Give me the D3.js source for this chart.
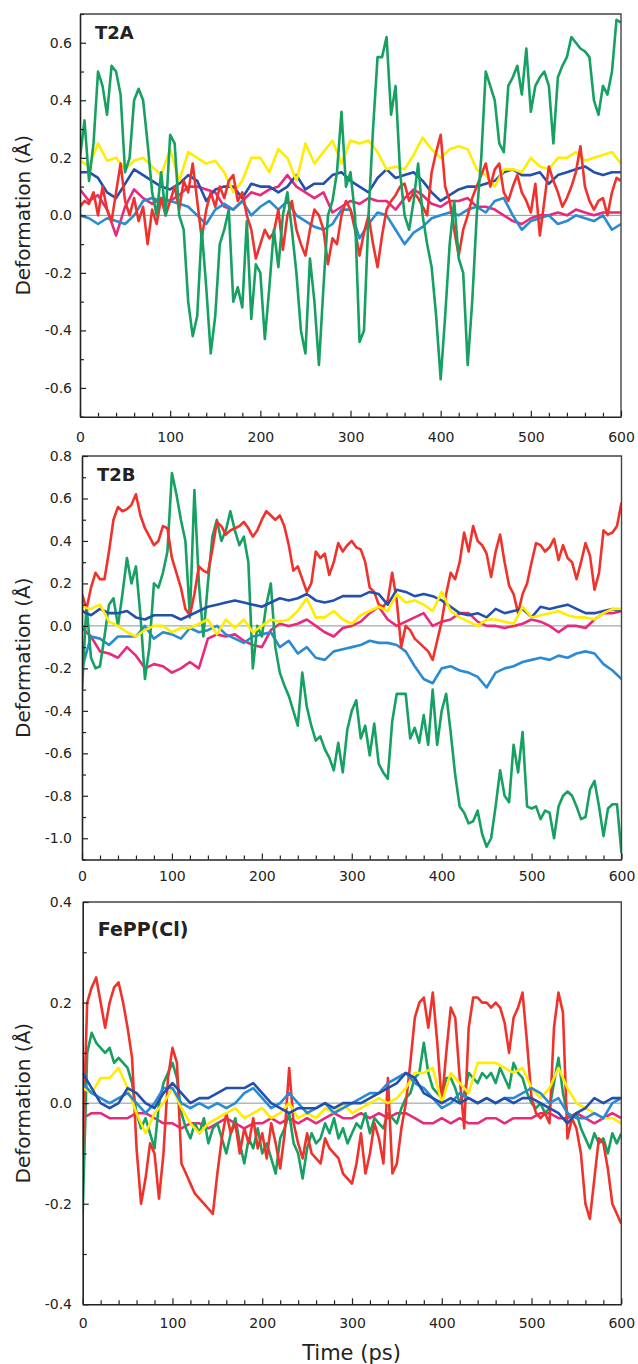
<!DOCTYPE html>
<html>
<head>
<meta charset="utf-8">
<script src="https://cdn.jsdelivr.net/npm/d3@7"></script>
<style>
    body { margin: 0; background: #fff; }
    text { font-family: "DejaVu Sans", "Liberation Sans", sans-serif; fill: #222; }
</style>
</head>
<body>
<svg id="figure" width="638" height="1364"></svg>
<script>
// time grids (ps): the noisy traces are read every 5 ps, the smoother ones every 10 ps
const t5 = d3.range(0, 601, 5);
const t10 = d3.range(0, 601, 10);
const timeTicks = [0, 100, 200, 300, 400, 500, 600];

// ---- T2A ----
const t2aGreen = [
    0.20,0.33,0.12,0.25,0.50,0.45,0.35,0.52,0.50,0.42,
    0.15,0.20,0.40,0.44,0.40,0.25,0.08,0.00,0.15,0.00,
    0.28,0.25,0.00,-0.05,-0.30,-0.42,-0.35,-0.05,-0.25,-0.48,
    -0.35,-0.10,-0.05,0.02,-0.30,-0.25,-0.32,-0.02,-0.36,-0.17,
    -0.20,-0.43,-0.25,-0.05,-0.18,0.00,0.08,-0.05,-0.20,-0.40,
    -0.48,-0.15,-0.30,-0.52,-0.25,0.00,0.05,0.15,0.36,0.10,
    0.15,0.00,-0.44,-0.40,0.00,0.30,0.55,0.55,0.62,0.35,
    0.45,0.15,0.00,-0.05,0.05,0.18,0.00,-0.10,-0.18,-0.35,
    -0.57,-0.35,-0.10,0.05,-0.15,-0.20,-0.52,-0.30,0.00,0.20,
    0.50,0.45,0.40,0.25,0.22,0.45,0.48,0.52,0.42,0.58,
    0.36,0.45,0.48,0.50,0.45,0.25,0.48,0.52,0.55,0.62,
    0.60,0.58,0.57,0.55,0.40,0.35,0.45,0.42,0.50,0.68,
    0.67];
const t2aRed = [
    0.03,0.05,0.04,0.08,0.00,0.10,0.02,-0.02,0.08,0.18,
    0.05,0.00,0.06,-0.02,0.03,-0.10,0.02,-0.03,0.06,0.00,
    0.05,0.10,0.02,0.12,0.08,0.18,0.05,-0.08,0.02,0.08,
    0.03,0.10,0.06,0.12,0.14,0.05,0.08,0.00,-0.05,-0.15,
    -0.10,-0.05,-0.08,-0.06,0.02,-0.12,0.00,0.05,-0.05,-0.10,
    -0.14,-0.05,0.02,0.00,-0.05,-0.17,-0.08,-0.10,0.00,0.05,
    0.02,-0.05,-0.14,-0.06,0.00,-0.10,-0.18,-0.07,0.02,0.05,
    0.07,0.10,0.11,0.05,0.08,0.06,0.03,0.00,0.15,0.22,
    0.28,0.10,0.05,-0.05,-0.14,-0.05,0.00,0.06,0.10,0.14,
    0.18,0.10,0.16,0.18,0.08,0.05,0.10,0.14,0.08,0.05,
    0.01,0.11,-0.07,0.05,0.17,0.12,0.08,0.03,0.06,0.10,
    0.15,0.24,0.10,0.05,0.02,0.05,0.06,0.00,0.08,0.13,
    0.12];
const t2aYellow = [
    0.19,0.17,0.25,0.19,0.20,0.16,0.19,0.20,0.17,0.14,
    0.23,0.12,0.22,0.20,0.18,0.19,0.15,0.08,0.12,0.20,
    0.20,0.15,0.23,0.20,0.12,0.25,0.18,0.22,0.26,0.18,
    0.26,0.25,0.26,0.22,0.16,0.17,0.16,0.21,0.27,0.23,
    0.20,0.23,0.24,0.23,0.16,0.14,0.10,0.16,0.16,0.15,
    0.20,0.17,0.16,0.20,0.20,0.22,0.19,0.20,0.21,0.22,
    0.18];
const t2aNavy = [
    0.15,0.15,0.13,0.08,0.06,0.11,0.16,0.14,0.12,0.10,
    0.09,0.11,0.14,0.12,0.05,0.09,0.10,0.10,0.06,0.11,
    0.10,0.10,0.08,0.10,0.14,0.09,0.11,0.11,0.14,0.15,
    0.12,0.10,0.08,0.13,0.16,0.13,0.14,0.15,0.12,0.08,
    0.05,0.07,0.09,0.10,0.10,0.11,0.12,0.15,0.16,0.14,
    0.14,0.15,0.11,0.14,0.15,0.16,0.17,0.15,0.14,0.15,
    0.15];
const t2aSky = [
    0.00,-0.01,-0.03,-0.01,-0.02,-0.03,0.00,0.05,0.06,0.05,
    0.05,0.04,0.03,0.00,-0.03,0.02,0.04,0.02,0.05,0.00,
    0.03,0.05,0.02,0.05,0.00,-0.02,-0.04,-0.05,-0.03,0.02,
    0.02,-0.08,-0.03,0.01,0.00,-0.05,-0.10,-0.06,-0.04,-0.01,
    0.00,0.01,0.00,0.02,0.03,0.01,0.05,0.06,0.00,-0.05,
    -0.02,-0.01,0.00,-0.03,-0.02,0.00,-0.01,-0.02,0.00,-0.05,
    -0.03];
const t2aMagenta = [
    0.09,0.05,0.07,0.02,-0.07,0.03,0.09,0.06,0.04,0.06,
    0.05,0.07,0.10,0.10,0.09,0.08,0.03,0.02,0.05,0.08,
    0.07,0.09,0.10,0.14,0.10,0.08,0.06,0.08,0.01,0.03,
    0.05,0.04,0.06,0.05,0.05,0.02,0.06,0.09,0.07,0.04,
    0.03,0.05,0.05,0.06,0.03,0.03,0.02,0.00,-0.02,-0.03,
    -0.01,0.00,0.00,0.01,0.00,0.02,0.01,0.00,0.01,0.01,
    0.01];

// ---- T2B ----
const t2bRed = [
    0.15,0.08,0.18,0.25,0.22,0.22,0.35,0.50,0.56,0.54,
    0.55,0.57,0.62,0.52,0.46,0.42,0.38,0.40,0.47,0.46,
    0.32,0.25,0.18,0.08,0.05,0.15,0.28,0.26,0.25,0.36,
    0.49,0.47,0.43,0.45,0.46,0.47,0.49,0.46,0.42,0.45,
    0.50,0.54,0.52,0.50,0.52,0.47,0.38,0.26,0.28,0.22,
    0.16,0.20,0.35,0.32,0.34,0.24,0.30,0.39,0.35,0.38,
    0.40,0.37,0.36,0.30,0.18,0.16,0.10,0.09,0.12,0.25,
    0.12,-0.10,0.00,-0.02,-0.06,-0.08,-0.10,-0.12,-0.16,-0.07,
    0.02,0.15,0.25,0.22,0.30,0.44,0.35,0.47,0.40,0.38,
    0.34,0.23,0.35,0.43,0.30,0.19,0.15,0.06,0.15,0.20,
    0.30,0.39,0.38,0.35,0.37,0.41,0.31,0.38,0.32,0.30,
    0.22,0.30,0.39,0.33,0.17,0.25,0.45,0.43,0.44,0.47,
    0.58];
const t2bGreen = [
    -0.30,0.10,-0.15,-0.20,-0.19,-0.05,0.10,0.13,0.00,0.15,
    0.32,0.20,0.28,0.05,-0.25,-0.10,0.20,0.18,0.25,0.35,
    0.72,0.62,0.50,0.40,0.04,0.64,0.20,-0.05,0.20,0.42,
    0.50,0.40,0.45,0.54,0.45,0.38,0.42,0.30,-0.20,0.00,
    -0.05,0.10,0.20,-0.10,-0.22,-0.28,-0.33,-0.40,-0.47,-0.22,
    -0.38,-0.47,-0.54,-0.52,-0.58,-0.62,-0.68,-0.55,-0.69,-0.49,
    -0.40,-0.35,-0.53,-0.47,-0.61,-0.46,-0.65,-0.69,-0.72,-0.45,
    -0.32,-0.32,-0.32,-0.53,-0.48,-0.55,-0.42,-0.56,-0.30,-0.56,
    -0.40,-0.32,-0.50,-0.70,-0.85,-0.88,-0.93,-0.92,-0.87,-0.98,
    -1.04,-1.00,-0.85,-0.68,-0.80,-0.83,-0.56,-0.69,-0.50,-0.85,
    -0.86,-0.85,-0.91,-0.87,-0.88,-1.00,-0.85,-0.80,-0.78,-0.80,
    -0.85,-0.91,-0.90,-0.77,-0.73,-0.85,-0.99,-0.86,-0.84,-0.84,
    -1.07];
const t2bNavy = [
    0.07,0.05,0.08,0.06,0.06,0.07,0.04,0.03,0.05,0.05,
    0.05,0.03,0.05,0.07,0.09,0.10,0.11,0.12,0.11,0.10,
    0.09,0.11,0.13,0.12,0.13,0.15,0.12,0.11,0.12,0.14,
    0.14,0.14,0.16,0.15,0.10,0.17,0.16,0.14,0.15,0.14,
    0.12,0.09,0.06,0.05,0.06,0.04,0.08,0.06,0.07,0.08,
    0.04,0.09,0.08,0.09,0.10,0.08,0.06,0.06,0.07,0.08,
    0.07];
const t2bYellow = [
    0.09,0.08,0.10,0.02,0.00,-0.03,-0.05,-0.02,0.00,0.00,
    -0.03,-0.01,-0.01,0.01,0.03,-0.04,0.03,-0.01,0.03,-0.03,
    0.00,0.03,0.02,0.03,0.07,0.13,0.04,0.04,0.07,0.03,
    0.01,0.05,0.07,0.09,0.07,0.15,0.11,0.12,0.10,0.07,
    0.16,0.07,0.04,0.02,0.00,0.03,0.03,0.02,0.01,0.09,
    0.04,0.05,0.06,0.07,0.05,0.04,0.04,0.03,0.06,0.08,
    0.08];
const t2bMagenta = [
    -0.01,-0.05,-0.12,-0.13,-0.15,-0.10,-0.14,-0.20,-0.18,-0.19,
    -0.22,-0.20,-0.17,-0.20,-0.06,-0.04,-0.05,-0.04,-0.07,-0.09,
    -0.10,-0.02,0.01,0.00,0.01,0.03,0.00,-0.03,-0.05,-0.01,
    0.00,0.02,0.06,0.09,0.03,0.00,0.02,0.04,0.06,0.00,
    0.02,0.03,0.06,0.06,0.02,0.00,0.00,-0.01,0.00,0.01,
    0.03,0.02,0.00,-0.03,0.00,0.00,-0.01,0.03,0.06,0.06,
    0.07];
const t2bSky = [
    -0.20,-0.05,-0.06,-0.09,-0.05,-0.05,-0.05,0.00,-0.06,-0.03,
    -0.04,-0.06,-0.01,-0.03,-0.02,0.00,-0.04,-0.06,-0.08,-0.05,
    -0.04,-0.03,-0.10,-0.07,-0.13,-0.10,-0.15,-0.16,-0.12,-0.11,
    -0.10,-0.09,-0.07,-0.08,-0.08,-0.09,-0.12,-0.19,-0.25,-0.27,
    -0.20,-0.19,-0.21,-0.22,-0.24,-0.29,-0.22,-0.20,-0.19,-0.17,
    -0.16,-0.15,-0.16,-0.14,-0.15,-0.13,-0.12,-0.13,-0.18,-0.21,
    -0.25];

// ---- FePP(Cl) ----
const feRed = [
    -0.10,0.20,0.23,0.25,0.20,0.15,0.20,0.23,0.24,0.20,
    0.15,0.09,-0.09,-0.20,-0.15,-0.08,-0.10,-0.19,-0.10,0.05,
    0.11,0.08,-0.12,-0.14,-0.16,-0.18,-0.19,-0.20,-0.21,-0.22,
    -0.14,-0.07,-0.02,-0.06,-0.04,-0.10,-0.05,-0.08,-0.03,-0.09,
    -0.06,-0.11,-0.04,-0.08,-0.13,-0.06,0.07,-0.04,-0.08,-0.11,
    -0.06,-0.10,-0.11,-0.12,-0.07,-0.09,-0.10,-0.11,-0.14,-0.15,
    -0.16,-0.12,-0.06,-0.14,-0.10,-0.04,-0.07,-0.12,0.05,-0.14,
    -0.12,-0.05,0.00,0.08,0.17,0.20,0.21,0.15,0.22,0.12,
    0.00,0.10,0.19,0.17,0.05,-0.05,0.15,0.21,0.21,0.20,
    0.20,0.19,0.20,0.19,0.16,0.10,0.17,0.19,0.22,0.12,
    0.01,-0.02,-0.03,-0.02,-0.04,0.15,0.22,0.18,-0.07,-0.03,
    -0.05,-0.10,-0.20,-0.23,-0.15,-0.07,-0.08,-0.13,-0.20,-0.22,
    -0.24];
const feGreen = [
    -0.22,0.10,0.14,0.12,0.11,0.10,0.11,0.08,0.09,0.08,
    0.07,0.04,-0.02,-0.05,-0.03,-0.06,-0.09,0.00,0.04,0.06,
    0.08,0.05,-0.02,-0.05,-0.07,-0.04,-0.06,-0.03,-0.08,-0.05,
    -0.04,-0.07,-0.10,-0.06,-0.03,-0.08,-0.12,-0.07,-0.09,-0.05,
    -0.10,-0.08,-0.11,-0.14,-0.07,-0.05,-0.02,-0.08,-0.10,-0.15,
    -0.09,-0.06,-0.08,-0.07,-0.04,-0.06,-0.03,-0.07,-0.05,-0.08,
    -0.06,-0.04,-0.05,-0.02,-0.06,-0.03,-0.04,-0.05,-0.02,-0.03,
    -0.04,-0.01,0.01,0.02,0.05,0.06,0.12,0.06,0.03,0.02,
    0.01,0.05,0.05,0.03,0.00,0.02,0.06,0.05,0.04,0.06,
    0.05,0.06,0.04,0.07,0.05,0.03,0.08,0.06,0.05,0.02,
    0.00,-0.01,0.00,-0.02,-0.01,0.04,0.09,0.02,-0.02,-0.03,
    -0.02,-0.05,-0.07,-0.09,-0.06,-0.08,-0.07,-0.10,-0.06,-0.08,
    -0.06];
const feYellow = [
    0.03,0.02,0.05,0.05,0.07,0.03,-0.02,-0.06,-0.02,0.00,
    0.03,-0.01,-0.04,-0.06,-0.04,-0.03,-0.02,-0.01,-0.03,-0.02,
    -0.01,-0.03,-0.02,0.00,-0.03,-0.02,-0.03,-0.01,-0.02,0.00,
    -0.02,-0.01,0.00,0.01,0.00,0.01,0.03,0.06,0.06,0.07,
    0.00,0.06,0.04,0.02,0.08,0.08,0.08,0.07,0.06,0.07,
    0.03,0.01,0.03,0.07,0.03,0.00,-0.01,-0.02,-0.03,-0.03,
    -0.04];
const feNavy = [
    0.06,0.03,0.00,-0.01,0.00,0.03,0.02,0.00,-0.01,0.02,
    0.04,0.02,0.00,0.01,0.01,0.02,0.03,0.03,0.03,0.04,
    0.02,0.00,-0.01,-0.02,-0.01,-0.01,-0.01,0.00,-0.01,0.00,
    0.00,0.00,0.01,0.02,0.03,0.04,0.06,0.05,0.02,0.01,
    0.00,0.01,0.00,0.01,0.00,0.01,0.00,0.01,0.00,0.01,
    0.01,0.00,-0.01,-0.02,-0.04,-0.02,-0.01,0.01,0.00,0.01,
    0.01];
const feSky = [
    0.04,0.02,0.01,0.00,0.01,0.02,0.00,-0.02,0.00,0.03,
    0.03,0.00,-0.01,0.00,-0.01,0.00,-0.01,0.00,0.02,0.03,
    0.01,-0.01,0.00,0.02,0.00,-0.02,-0.01,0.00,-0.02,-0.01,
    0.00,0.01,0.02,0.02,0.04,0.05,0.06,0.04,0.03,0.01,
    -0.01,0.00,0.02,0.01,0.00,0.01,0.00,0.01,0.01,0.02,
    0.03,0.02,0.00,0.01,-0.02,-0.03,-0.03,-0.02,-0.03,0.00,
    0.01];
const feMagenta = [
    -0.03,-0.02,-0.02,-0.03,-0.03,-0.03,-0.02,-0.02,-0.03,-0.04,
    -0.04,-0.05,-0.04,-0.04,-0.05,-0.04,-0.03,-0.04,-0.05,-0.04,
    -0.04,-0.03,-0.04,-0.03,-0.04,-0.03,-0.04,-0.03,-0.02,-0.03,
    -0.03,-0.02,-0.03,-0.02,-0.03,-0.02,-0.02,-0.03,-0.04,-0.04,
    -0.03,-0.04,-0.03,-0.04,-0.04,-0.03,-0.03,-0.04,-0.03,-0.03,
    -0.03,-0.02,-0.02,-0.03,-0.03,-0.02,-0.03,-0.04,-0.03,-0.02,
    -0.03];

const colors = {
    green: "#16a062",
    red: "#f0322c",
    yellow: "#ffec00",
    navy: "#2450ad",
    sky: "#2a8bd4",
    magenta: "#e8297c"
};

const panels = [
    {
        label: "T2A", left: 80, right: 621, top: 14, bottom: 416.7,
        domain: [-0.7, 0.7], yTicks: [-0.6, -0.4, -0.2, 0, 0.2, 0.4, 0.6],
        labelPad: 15,
        series: [
            {c: "magenta", v: t2aMagenta}, {c: "sky", v: t2aSky}, {c: "navy", v: t2aNavy},
            {c: "yellow", v: t2aYellow}, {c: "red", v: t2aRed}, {c: "green", v: t2aGreen}
        ]
    },
    {
        label: "T2B", left: 82, right: 621.5, top: 456, bottom: 859.5,
        domain: [-1.1, 0.8], yTicks: [-1.0, -0.8, -0.6, -0.4, -0.2, 0, 0.2, 0.4, 0.6, 0.8],
        labelPad: 12,
        series: [
            {c: "magenta", v: t2bMagenta}, {c: "sky", v: t2bSky}, {c: "green", v: t2bGreen},
            {c: "red", v: t2bRed}, {c: "navy", v: t2bNavy}, {c: "yellow", v: t2bYellow}
        ]
    },
    {
        label: "FePP(Cl)", left: 82.7, right: 621.3, top: 902, bottom: 1304.3,
        domain: [-0.4, 0.4], yTicks: [-0.4, -0.2, 0, 0.2, 0.4],
        labelPad: 14,
        series: [
            {c: "magenta", v: feMagenta}, {c: "green", v: feGreen}, {c: "red", v: feRed},
            {c: "yellow", v: feYellow}, {c: "sky", v: feSky}, {c: "navy", v: feNavy}
        ]
    }
];

const svg = d3.select("#figure");

panels.forEach(drawPanel);

function drawPanel(p, i) {
    const x = d3.scaleLinear().domain([0, 600]).range([p.left, p.right]);
    const y = d3.scaleLinear().domain(p.domain).range([p.bottom, p.top]);
    const g = svg.append("g");

    g.append("clipPath").attr("id", "clip" + i)
        .append("rect")
        .attr("x", p.left).attr("y", p.top)
        .attr("width", p.right - p.left).attr("height", p.bottom - p.top);

    // thin reference line at zero
    g.append("line")
        .attr("x1", p.left).attr("x2", p.right)
        .attr("y1", y(0)).attr("y2", y(0))
        .attr("stroke", "#8a94a0").attr("stroke-width", 1);

    const line = d3.line()
        .x(d => x(d[0]))
        .y(d => y(d[1]));

    const plot = g.append("g").attr("clip-path", "url(#clip" + i + ")");
    p.series.forEach(s => {
        const times = s.v.length === t5.length ? t5 : t10;
        plot.append("path")
            .datum(times.map((t, k) => [t, s.v[k]]))
            .attr("d", line)
            .attr("fill", "none")
            .attr("stroke", colors[s.c])
            .attr("stroke-width", 2.6)
            .attr("stroke-linejoin", "round");
    });

    // top and right edges of the box
    g.append("path")
        .attr("d", `M${p.left},${p.top}H${p.right}V${p.bottom}`)
        .attr("fill", "none").attr("stroke", "#444").attr("stroke-width", 1.4);

    // x axis: minor ticks every 20 ps, major every 100 ps, all pointing inward
    g.append("g")
        .attr("transform", `translate(0,${p.bottom})`)
        .call(d3.axisBottom(x).tickValues(d3.range(0, 601, 20).filter(d => d % 100)).tickSize(-4).tickFormat(""))
        .call(a => a.select(".domain").remove());

    const xAxis = g.append("g")
        .attr("transform", `translate(0,${p.bottom})`)
        .call(d3.axisBottom(x).tickValues(timeTicks).tickSizeInner(-6).tickSizeOuter(0)
            .tickPadding(p.labelPad).tickFormat(d3.format("d")));

    // y axis: minor ticks at the 0.1 marks
    const minorY = d3.range(Math.round(p.domain[0] * 10), Math.round(p.domain[1] * 10) + 1)
        .map(d => d / 10)
        .filter(d => !p.yTicks.some(t => Math.abs(t - d) < 1e-6));
    g.append("g")
        .attr("transform", `translate(${p.left},0)`)
        .call(d3.axisLeft(y).tickValues(minorY).tickSize(-4).tickFormat(""))
        .call(a => a.select(".domain").remove());

    const yAxis = g.append("g")
        .attr("transform", `translate(${p.left},0)`)
        .call(d3.axisLeft(y).tickValues(p.yTicks).tickSizeInner(-6).tickSizeOuter(0)
            .tickPadding(p.left - 72).tickFormat(d => d.toFixed(1)));

    g.selectAll(".tick line").attr("stroke", "#222").attr("stroke-width", 1.2);
    [xAxis, yAxis].forEach(a => {
        a.select(".domain").attr("stroke", "#222").attr("stroke-width", 1.6);
        a.selectAll("text").attr("font-size", 14).attr("fill", "#222")
            .style("font-family", '"DejaVu Sans", sans-serif');
    });

    // panel name
    g.append("text")
        .attr("x", p.left + 15)
        .attr("y", p.top + (i === 2 ? 34 : 24.5))
        .attr("font-size", i === 2 ? 19 : 18)
        .attr("font-weight", "bold")
        .text(p.label);

    // y title
    g.append("text")
        .attr("transform", `translate(30,${(p.top + p.bottom) / 2}) rotate(-90)`)
        .attr("text-anchor", "middle")
        .attr("font-size", 20)
        .text("Deformation (Å)");
}

svg.append("text")
    .attr("x", 351.5)
    .attr("y", 1360)
    .attr("text-anchor", "middle")
    .attr("font-size", 21)
    .text("Time (ps)");
</script>
</body>
</html>
